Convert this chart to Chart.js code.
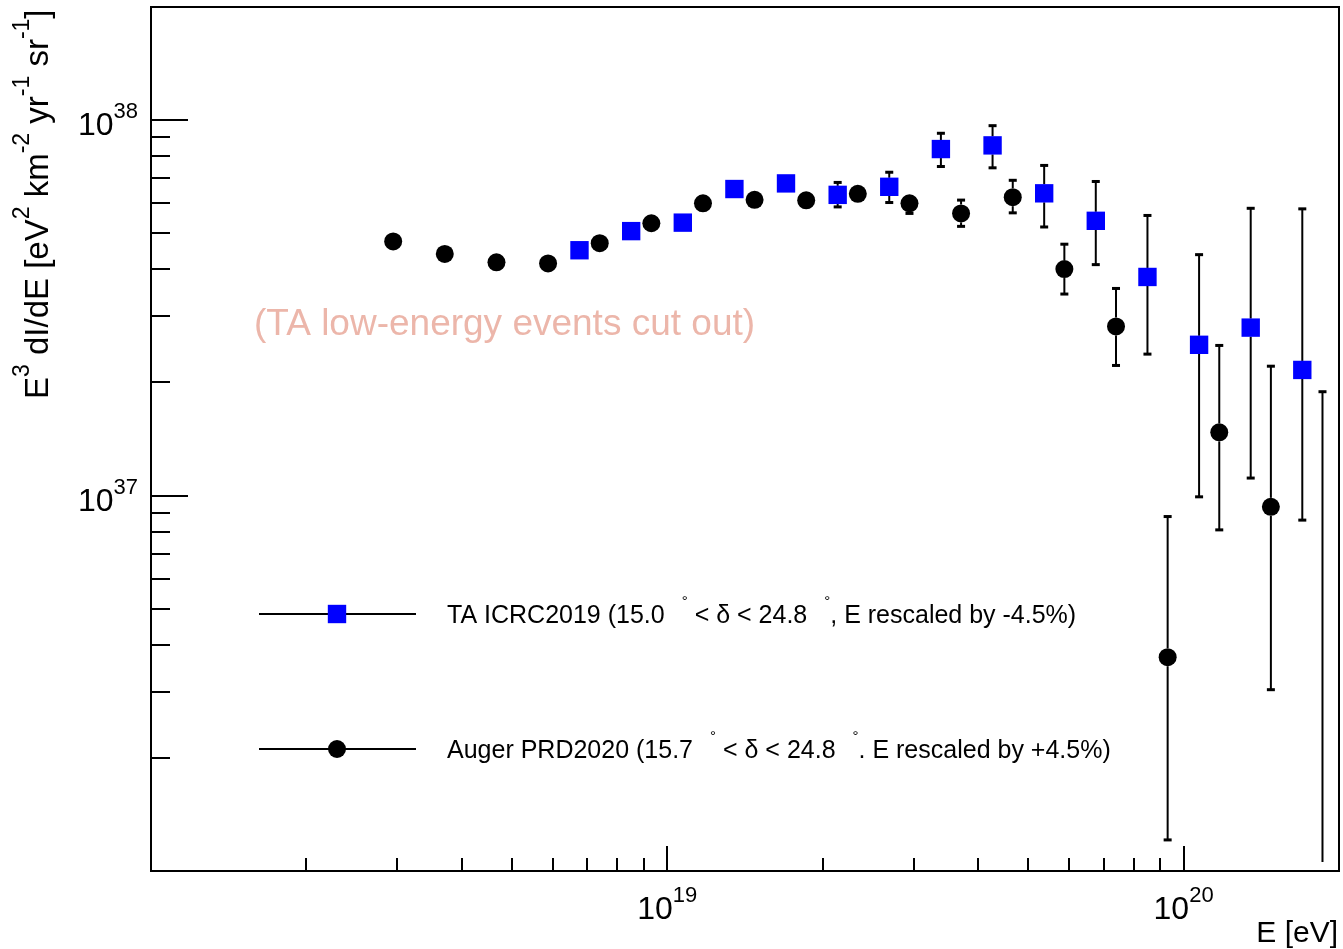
<!DOCTYPE html>
<html>
<head>
<meta charset="utf-8">
<script src="https://cdn.jsdelivr.net/npm/chart.js@4.4.1/dist/chart.umd.min.js"></script>
<style>
  html, body { margin: 0; padding: 0; background: #ffffff; }
  #wrap { width: 1343px; height: 949px; }
  canvas { display: block; }
</style>
</head>
<body>
<div id="wrap"><canvas id="spectrum" width="1343" height="949"></canvas></div>
<script>
// Telescope Array, ICRC 2019 (energies rescaled by -4.5%)
const taEnergy   = [6.760e18, 8.512e18, 1.0716e19, 1.349e19, 1.698e19, 2.138e19, 2.691e19, 3.388e19,
                    4.266e19, 5.370e19, 6.760e19, 8.512e19, 1.0716e20, 1.349e20, 1.698e20];
const taFlux     = [4.50e37, 5.06e37, 5.33e37, 6.55e37, 6.78e37, 6.32e37, 6.64e37, 8.37e37,
                    8.56e37, 6.38e37, 5.39e37, 3.82e37, 2.52e37, 2.80e37, 2.16e37];
const taFluxLow  = [4.40e37, 4.95e37, 5.21e37, 6.41e37, 6.62e37, 5.87e37, 6.03e37, 7.52e37,
                    7.46e37, 5.19e37, 4.12e37, 2.38e37, 9.92e36, 1.113e37, 8.60e36];
const taFluxHigh = [4.60e37, 5.17e37, 5.45e37, 6.69e37, 6.94e37, 6.82e37, 7.26e37, 9.22e37,
                    9.66e37, 7.57e37, 6.86e37, 5.57e37, 4.38e37, 5.82e37, 5.80e37];

// Pierre Auger Observatory, PRD 2020 (energies rescaled by +4.5%)
const augerEnergy   = [2.945e18, 3.707e18, 4.668e18, 5.876e18, 7.398e18, 9.314e18, 1.1725e19, 1.476e19,
                       1.858e19, 2.339e19, 2.945e19, 3.707e19, 4.668e19, 5.876e19, 7.398e19, 9.314e19,
                       1.1725e20, 1.476e20, 1.858e20];
const augerFlux     = [4.75e37, 4.40e37, 4.18e37, 4.15e37, 4.70e37, 5.31e37, 6.00e37, 6.13e37,
                       6.11e37, 6.36e37, 6.00e37, 5.64e37, 6.23e37, 4.01e37, 2.82e37, 3.71e36,
                       1.473e37, 9.33e36, 6.0e35];
const augerFluxLow  = [4.70e37, 4.35e37, 4.13e37, 4.10e37, 4.64e37, 5.24e37, 5.91e37, 6.02e37,
                       5.98e37, 6.20e37, 5.64e37, 5.21e37, 5.66e37, 3.44e37, 2.22e37, 1.21e36,
                       8.10e36, 3.04e36, 1.0e35];
const augerFluxHigh = [4.80e37, 4.45e37, 4.23e37, 4.20e37, 4.76e37, 5.38e37, 6.09e37, 6.24e37,
                       6.24e37, 6.52e37, 6.34e37, 6.12e37, 6.91e37, 4.67e37, 3.56e37, 8.79e36,
                       2.51e37, 2.21e37, 1.89e37];

// Axis ranges and labelled decades
const xRange = [1e18, 2e20];
const yRange = [1e36, 2e38];
const xLabelExponents = [19, 20];
const yLabelExponents = [37, 38];

const seriesLabels = [
  ['TA ICRC2019 (15.0', ' < \u03b4 < 24.8', ', E rescaled by -4.5%)'],
  ['Auger PRD2020 (15.7', ' < \u03b4 < 24.8', '. E rescaled by +4.5%)']
];
const noteText = '(TA low-energy events cut out)';

const FAMILY = '"Liberation Sans", Arial, Helvetica, sans-serif';
const font = px => px + 'px ' + FAMILY;

function toPoints(xs, ys, lo, hi) {
  return xs.map((v, i) => ({ x: v, y: ys[i], yMin: lo[i], yMax: hi[i] }));
}

function logTicks(range) {
  const out = [];
  const d0 = Math.floor(Math.log10(range[0]));
  const d1 = Math.ceil(Math.log10(range[1]));
  for (let d = d0; d <= d1; d++) {
    for (let m = 1; m <= 9; m++) {
      const v = m * Math.pow(10, d);
      if (v > range[0] * 1.0001 && v < range[1] * 0.9999) out.push({ v, major: m === 1 });
    }
  }
  return out;
}

function seg(ctx, x1, y1, x2, y2) {
  ctx.beginPath(); ctx.moveTo(x1, y1); ctx.lineTo(x2, y2); ctx.stroke();
}

function marker(ctx, style, color, x, y) {
  ctx.fillStyle = color;
  if (style === 'rect') {
    const h = 13 * Math.SQRT1_2;
    ctx.fillRect(x - h, y - h, 2 * h, 2 * h);
  } else {
    ctx.beginPath(); ctx.arc(x, y, 9, 0, Math.PI * 2); ctx.fill();
  }
}

// Legend entry text with raised degree marks
function legendText(ctx, parts, x, base) {
  ctx.fillStyle = '#000';
  ctx.textAlign = 'left';
  let cx = x;
  parts.forEach((p, i) => {
    ctx.font = font(25);
    ctx.fillText(p, cx, base);
    cx += ctx.measureText(p).width;
    if (i < parts.length - 1) {
      ctx.font = font(15);
      ctx.fillText('\u00b0', cx + 17, base - 17);
      cx += 17 + ctx.measureText('\u00b0').width;
    }
  });
}

const rootStyle = {
  id: 'rootStyle',
  beforeDatasetsDraw(chart) {
    const { ctx, chartArea: a, scales: { x, y } } = chart;
    ctx.save();
    ctx.beginPath();
    ctx.rect(a.left, a.top, a.right - a.left, a.bottom - a.top);
    ctx.clip();
    ctx.strokeStyle = '#000';
    ctx.fillStyle = '#000';
    ctx.lineWidth = 2;
    chart.data.datasets.forEach(ds => {
      ds.data.forEach(p => {
        const px = x.getPixelForValue(p.x);
        let pc = y.getPixelForValue(p.y);
        pc = Math.min(Math.max(pc, a.top), a.bottom);
        const ph = y.getPixelForValue(p.yMax);
        const pl = y.getPixelForValue(p.yMin);
        const gap = 9;
        if (ph < pc - gap) { seg(ctx, px, pc - gap, px, ph); ctx.fillRect(px - 4, ph - 1.5, 8, 3); }
        if (pl > pc + gap) { seg(ctx, px, pc + gap, px, pl); ctx.fillRect(px - 4, pl - 1.5, 8, 3); }
      });
    });
    ctx.restore();
  },
  afterDatasetsDraw(chart) {
    const { ctx, chartArea: a, scales: { x, y } } = chart;
    ctx.save();
    ctx.strokeStyle = '#000';
    ctx.lineWidth = 2;
    ctx.strokeRect(a.left, a.top, a.right - a.left, a.bottom - a.top);

    logTicks(xRange).forEach(t => {
      const px = Math.round(x.getPixelForValue(t.v));
      seg(ctx, px, a.bottom, px, a.bottom - (t.major ? 25 : 13));
    });
    logTicks(yRange).forEach(t => {
      const py = Math.round(y.getPixelForValue(t.v));
      seg(ctx, a.left, py, a.left + (t.major ? 37 : 19), py);
    });

    // Decade labels 10^n
    ctx.fillStyle = '#000';
    ctx.textAlign = 'left';
    ctx.textBaseline = 'alphabetic';
    yLabelExponents.forEach(e => {
      const py = y.getPixelForValue(Math.pow(10, e));
      ctx.font = font(22); const ws = ctx.measureText(String(e)).width;
      ctx.font = font(32); const wb = ctx.measureText('10').width;
      const right = a.left - 13;
      ctx.fillText('10', right - ws - wb, py + 15);
      ctx.font = font(22); ctx.fillText(String(e), right - ws, py - 2);
    });
    xLabelExponents.forEach(e => {
      const px = x.getPixelForValue(Math.pow(10, e));
      ctx.font = font(22); const ws = ctx.measureText(String(e)).width;
      ctx.font = font(32); const wb = ctx.measureText('10').width;
      const start = px - (wb + ws) / 2;
      ctx.fillText('10', start, a.bottom + 48);
      ctx.font = font(22); ctx.fillText(String(e), start + wb, a.bottom + 31);
    });

    // Axis titles
    ctx.font = font(30);
    ctx.textAlign = 'right';
    ctx.fillText('E [eV]', 1338, 942);

    ctx.save();
    ctx.translate(48, 399);
    ctx.rotate(-Math.PI / 2);
    ctx.textAlign = 'left';
    const titleParts = [['E', false], ['3', true], [' dI/dE [eV', false], ['2', true], [' km', false],
                        ['-2', true], [' yr', false], ['-1', true], [' sr', false], ['-1', true], [']', false]];
    let tx = 0;
    titleParts.forEach(([t, sup]) => {
      ctx.font = font(sup ? 23 : 33);
      ctx.fillText(t, tx, sup ? -19 : 0);
      tx += ctx.measureText(t).width;
    });
    ctx.restore();

    // Note on the low-energy TA cut
    ctx.font = font(37);
    ctx.textAlign = 'left';
    ctx.fillStyle = '#ecb6aa';
    ctx.fillText(noteText, 254, 335);

    // Legend
    const rows = [
      { y: 614, style: 'rect', color: '#0000ff', parts: seriesLabels[0] },
      { y: 749, style: 'circle', color: '#000000', parts: seriesLabels[1] }
    ];
    rows.forEach(r => {
      ctx.strokeStyle = '#000';
      ctx.lineWidth = 2;
      seg(ctx, 259, r.y, 416, r.y);
      marker(ctx, r.style, r.color, 337, r.y);
      legendText(ctx, r.parts, 447, r.y + 9);
    });
    ctx.restore();
  }
};

new Chart(document.getElementById('spectrum'), {
  type: 'scatter',
  data: {
    datasets: [
      {
        label: 'TA ICRC2019',
        data: toPoints(taEnergy, taFlux, taFluxLow, taFluxHigh),
        pointStyle: 'rect',
        pointRadius: 13,
        pointBackgroundColor: '#0000ff',
        pointBorderColor: '#0000ff',
        pointBorderWidth: 0,
        showLine: false
      },
      {
        label: 'Auger PRD2020',
        data: toPoints(augerEnergy, augerFlux, augerFluxLow, augerFluxHigh),
        pointStyle: 'circle',
        pointRadius: 9,
        pointBackgroundColor: '#000000',
        pointBorderColor: '#000000',
        pointBorderWidth: 0,
        showLine: false
      }
    ]
  },
  options: {
    responsive: false,
    animation: false,
    devicePixelRatio: 1,
    layout: { autoPadding: false, padding: { left: 151, top: 7, right: 4, bottom: 78 } },
    scales: {
      x: { type: 'logarithmic', min: xRange[0], max: xRange[1], display: false },
      y: { type: 'logarithmic', min: yRange[0], max: yRange[1], display: false }
    },
    plugins: { legend: { display: false }, tooltip: { enabled: false } }
  },
  plugins: [rootStyle]
});
</script>
</body>
</html>
